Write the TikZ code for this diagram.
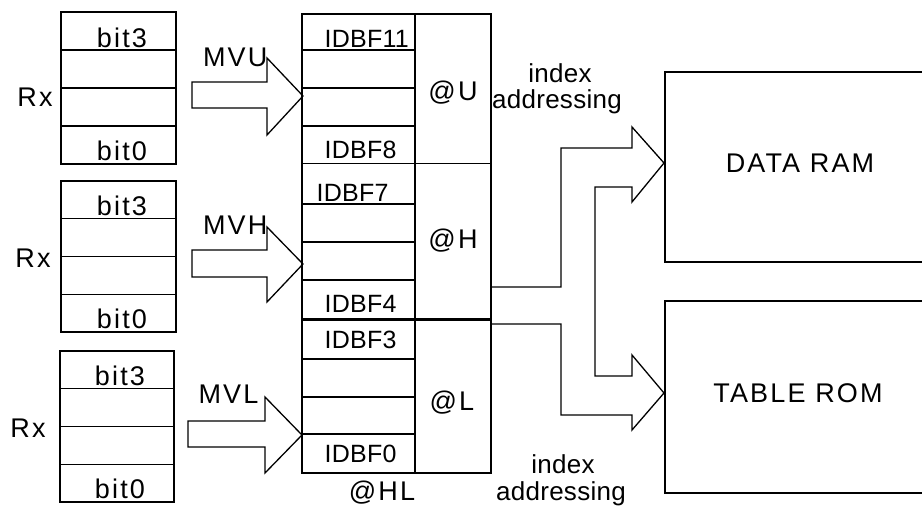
\documentclass[tikz,border=0pt]{standalone}
\usepackage{fontspec}
\setmainfont[LetterSpace=8]{Liberation Sans}
\newfontfamily\idfont[LetterSpace=1]{Liberation Sans}
\begin{document}
\begin{tikzpicture}[x=1pt,y=-1pt,line width=1.3pt,
  txt/.style={inner sep=0pt,font=\fontsize{27}{29}\selectfont},
  idtxt/.style={inner sep=0pt,font=\idfont\fontsize{25}{27}\selectfont},
  adtxt/.style={inner sep=0pt,font=\idfont\fontsize{26}{28}\selectfont},
  thick line/.style={line width=3pt}]
\useasboundingbox (0,0) rectangle (922,506);
\fill[white] (0,0) rectangle (922,506);

% ---- Rx register boxes ----
\foreach \n/\xa/\xb/\ya/\yb in {1/61/176/12/164,2/61/176/181/332,3/60/174/351/502}{
  \draw (\xa,\ya) rectangle (\xb,\yb);
  \foreach \k in {1,2,3}
    \draw (\xa,{\ya+\k*(\yb-\ya)/4}) -- (\xb,{\ya+\k*(\yb-\ya)/4});
}
\node[txt] (rx1) at (35,97) {Rx};
\node[txt] (rx2) at (33,258) {Rx};
\node[txt] (rx3) at (28,428) {Rx};
\node[txt,anchor=base] (b31) at (122,47) {bit3};
\node[txt,anchor=base] (b01) at (122,160) {bit0};
\node[txt,anchor=base] (b32) at (122,215) {bit3};
\node[txt,anchor=base] (b02) at (122,328) {bit0};
\node[txt,anchor=base] (b33) at (120,385) {bit3};
\node[txt,anchor=base] (b03) at (120,498) {bit0};

% ---- fat arrows into IDBF ----
\draw (192,82) -- (267,82) -- (267,58) -- (303,96) -- (267,135) -- (267,108) -- (192,108) -- cycle;
\draw (192,250) -- (267,250) -- (267,227) -- (303,264) -- (267,302) -- (267,277) -- (192,277) -- cycle;
\draw (188,421) -- (265,421) -- (265,397) -- (302,435) -- (265,473) -- (265,447) -- (188,447) -- cycle;
\node[txt,anchor=base east] (mvu) at (268,66) {MVU};
\node[txt,anchor=base east] (mvh) at (268,234) {MVH};
\node[txt,anchor=base east] (mvl) at (259,403) {MVL};

% ---- IDBF register ----
\draw (302,14) rectangle (491,473);
\draw (415,14) -- (415,473);
\foreach \y in {50,88,126,204,242,280,359,397,434}
  \draw (302,\y) -- (415,\y);
\draw (302,163.5) -- (491,163.5);
\draw[thick line] (302,319) -- (491,319);
\node[idtxt,anchor=base west] (i11) at (324,47) {IDBF11};
\node[idtxt,anchor=base west] (i8) at (324,158) {IDBF8};
\node[idtxt,anchor=base west] (i7) at (316,201) {IDBF7};
\node[idtxt,anchor=base west] (i4) at (324,312) {IDBF4};
\node[idtxt,anchor=base west] (i3) at (324,348) {IDBF3};
\node[idtxt,anchor=base west] (i0) at (324,462) {IDBF0};
\node[txt,anchor=base] (au) at (453,100) {@U};
\node[txt,anchor=base] (ah) at (453,248) {@H};
\node[txt,anchor=base] (al) at (452,410) {@L};
\node[txt,anchor=base] (ahl) at (382,500) {@HL};

% ---- index addressing labels ----
\node[adtxt,anchor=base] (ix1) at (560,82) {index};
\node[adtxt,anchor=base] (ad1) at (557,108) {addressing};
\node[adtxt,anchor=base] (ix2) at (563,473) {index};
\node[adtxt,anchor=base] (ad2) at (561,500) {addressing};

% ---- forked fat arrow ----
\draw (491,287) -- (561,287) -- (561,148) -- (632,148) -- (632,127) -- (664,163)
  -- (632,202) -- (632,187) -- (595,187) -- (595,376) -- (632,376) -- (632,355)
  -- (664,393) -- (632,430) -- (632,415) -- (561,415) -- (561,324) -- (491,324);

% ---- memories ----
\draw (930,72) -- (665,72) -- (665,262) -- (930,262);
\draw (930,301) -- (665,301) -- (665,493) -- (930,493);
\node[txt] (ram) at (800,163) {DATA RAM};
\node[txt] (rom) at (798,393) {TABLE ROM};
\end{tikzpicture}
\end{document}
